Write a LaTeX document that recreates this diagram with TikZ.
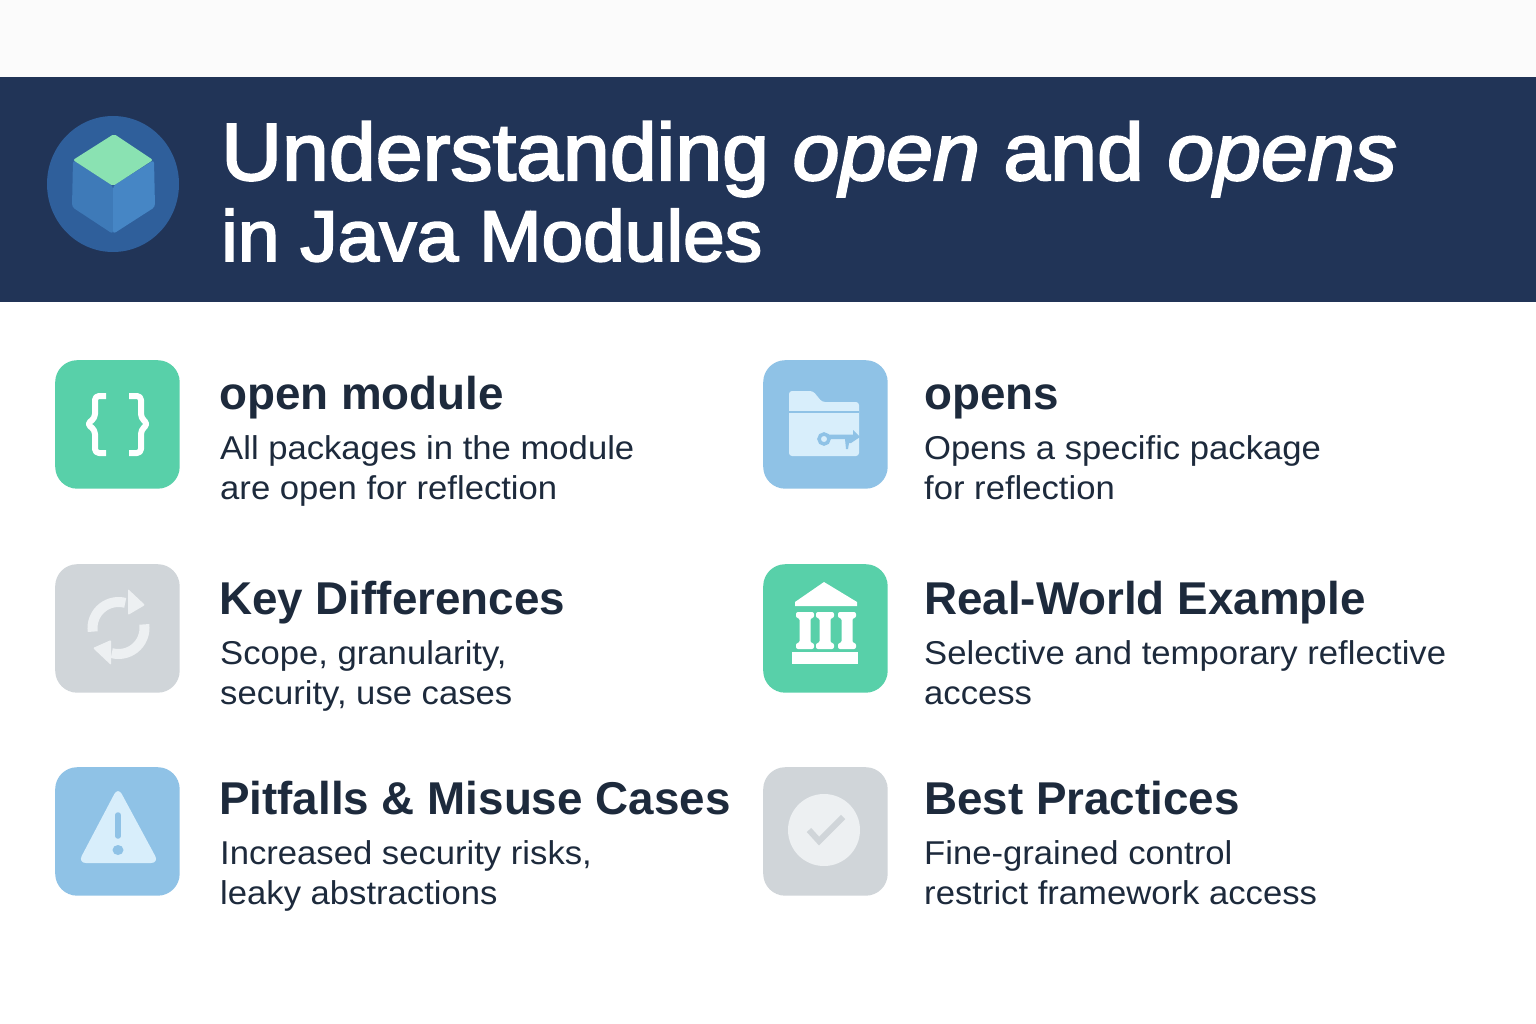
\documentclass[tikz,border=0pt]{standalone}
\usepackage{fontspec}
\setmainfont[FakeStretch=1.05]{Liberation Sans}
\newfontfamily\titlefam[FakeBold=2.6,FakeStretch=1.04]{Liberation Sans}
\newfontfamily\headfam[FakeStretch=0.995]{Liberation Sans}
\definecolor{bandblue}{HTML}{213457}
\definecolor{topgrey}{HTML}{FBFBFB}
\definecolor{tilegreen}{HTML}{58D0A9}
\definecolor{tileblue}{HTML}{8FC2E6}
\definecolor{tilegrey}{HTML}{D0D5D9}
\definecolor{paleblue}{HTML}{D8EEFB}
\definecolor{palegrey}{HTML}{EDF0F2}
\definecolor{inkdark}{HTML}{1D2A3C}
\begin{document}
\begin{tikzpicture}[
   x=1pt, y=-1pt,
   tile/.style={draw=none, rounded corners=22pt, minimum width=124.5pt, minimum height=128.5pt, inner sep=0pt, anchor=north west},
   titletext/.style={text=white, anchor=base west, inner sep=0pt, font=\titlefam\fontsize{81}{81}\selectfont},
   subtitletext/.style={text=white, anchor=base west, inner sep=0pt, font=\titlefam\fontsize{72}{72}\selectfont},
   headtext/.style={text=inkdark, anchor=base west, inner sep=0pt, font=\headfam\fontsize{46}{46}\selectfont\bfseries},
   bodytext/.style={text=inkdark, anchor=north west, inner sep=0pt, align=left, font=\fontsize{33}{40}\selectfont}]

\useasboundingbox (0,0) rectangle (1536,1024);
\fill[white] (0,0) rectangle (1536,1024);
\fill[topgrey] (0,0) rectangle (1536,77);
\fill[bandblue] (0,77) rectangle (1536,302);

% cube badge
\fill[color={rgb,255:red,47;green,95;blue,155}] (113,184) ellipse [x radius=66, y radius=68];
\fill[color={rgb,255:red,62;green,122;blue,184}, rounded corners=3pt] (73,160) -- (113,186) -- (113,234) -- (72,207) -- cycle;
\fill[color={rgb,255:red,70;green,134;blue,197}, rounded corners=3pt] (113,186) -- (154,160) -- (155,207) -- (113,234) -- cycle;
\fill[color={rgb,255:red,138;green,226;blue,178}, rounded corners=2pt] (114,134) -- (153,160) -- (113,186) -- (73,160) -- cycle;

\node[titletext] (title1) at (221,180) {Understanding \textit{open} and \textit{opens}};
\node[subtitletext] (title2) at (221,261) {in Java Modules};

% the six tiles
\node[tile, fill=tilegreen] (openTile) at (55,360) {};
\node[tile, fill=tileblue] (opensTile) at (763,360) {};
\node[tile, fill=tilegrey] (diffTile) at (55,564) {};
\node[tile, fill=tilegreen] (realTile) at (763,564) {};
\node[tile, fill=tileblue] (pitTile) at (55,767) {};
\node[tile, fill=tilegrey] (bestTile) at (763,767) {};

% braces
\draw[white, line width=6pt, line join=round, rounded corners=4pt] (106,396) -- (95,396) -- (95,418) -- (87,424) -- (95,430) -- (95,453) -- (106,453);
\draw[white, line width=6pt, line join=round, rounded corners=4pt] (129,396) -- (141,396) -- (141,418) -- (148,424) -- (141,430) -- (141,453) -- (129,453);

% folder and key
\fill[paleblue, rounded corners=3pt] (789,391) -- (813,391) -- (822,402) -- (859,402) -- (859,456) -- (789,456) -- cycle;
\draw[tileblue, line width=1.5pt] (789,412) -- (859,412);
\draw[tileblue, line width=3.5pt] (824,439) circle [radius=5];
\fill[tileblue] (829,434.5) -- (853,434.5) -- (853,430) -- (860,437) -- (851,443) -- (849,443) -- (848,449) -- (846,449) -- (845,439) -- (829,439) -- cycle;

% bank
\fill[white] (824,582) -- (857,602) -- (857,606) -- (795,606) -- (795,602) -- cycle;
\foreach \colx in {805,825,847} {
  \fill[white, rounded corners=2pt] (\colx-9,612) -- (\colx+9,612) -- (\colx+9,618) -- (\colx+5.5,618) -- (\colx+5.5,643) -- (\colx+9,643) -- (\colx+9,649) -- (\colx-9,649) -- (\colx-9,643) -- (\colx-5.5,643) -- (\colx-5.5,618) -- (\colx-9,618) -- cycle;
}
\fill[white] (792,652) rectangle (858,664);

% sync arrows
\draw[palegrey, line width=10pt] (118.5,628) ++(-188:26) arc[start angle=-188, end angle=-75, radius=26];
\fill[palegrey, rounded corners=1pt] (128,589) -- (145,605) -- (128,615) -- cycle;
\draw[palegrey, line width=10pt] (118.5,628) ++(-8:26) arc[start angle=-8, end angle=105, radius=26];
\fill[palegrey, rounded corners=1pt] (111,640) -- (93,648) -- (111,665) -- cycle;

% warning sign
\fill[paleblue, rounded corners=8pt] (118,787) -- (159,863) -- (78,863) -- cycle;
\draw[tileblue, line width=5.5pt, line cap=round] (118,815) -- (118,836);
\fill[tileblue] (118,850) ellipse [x radius=5.5, y radius=5];

% check mark
\fill[palegrey] (824,830) circle [radius=36];
\draw[tilegrey, line width=6pt] (809,830) -- (819,841) -- (843,817);

\node[headtext] (openHead) at (219,409) {open module};
\node[bodytext] (openBody) at (220,435) {All packages in the module\\are open for reflection};
\node[headtext] (opensHead) at (924,409) {opens};
\node[bodytext] (opensBody) at (924,435) {Opens a specific package\\for reflection};
\node[headtext] (diffHead) at (219,614) {Key Differences};
\node[bodytext] (diffBody) at (220,640) {Scope, granularity,\\security, use cases};
\node[headtext] (realHead) at (924,614) {Real-World Example};
\node[bodytext] (realBody) at (924,640) {Selective and temporary reflective\\access};
\node[headtext] (pitHead) at (219,814) {Pitfalls \& Misuse Cases};
\node[bodytext] (pitBody) at (220,840) {Increased security risks,\\leaky abstractions};
\node[headtext] (bestHead) at (924,814) {Best Practices};
\node[bodytext] (bestBody) at (924,840) {Fine-grained control\\restrict framework access};

\end{tikzpicture}
\end{document}
